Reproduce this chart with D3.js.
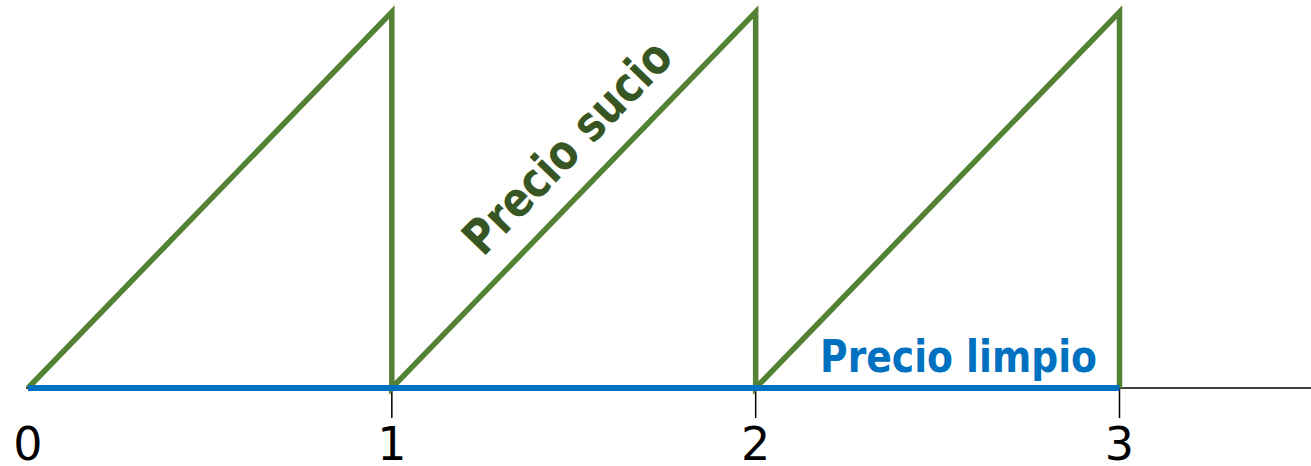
<!DOCTYPE html>
<html><head><meta charset="utf-8">
<script src="https://cdn.jsdelivr.net/npm/d3@7"></script>
<style>html,body{margin:0;padding:0;background:#fff;}svg{display:block;}</style>
</head><body>
<svg id="c" width="1311" height="466"></svg>
<script>
// Data
const dirtyTimes  = [0, 1, 1, 2, 2, 3, 3];
const dirtyValues = [0, 1, 0, 1, 0, 1, 0];
const cleanTimes  = [0, 3];
const cleanValues = [0, 0];
const tickValues  = [0, 1, 2, 3];
const tickLabels  = ["0", "1", "2", "3"];
const dirtyLabel  = "Precio sucio";
const cleanLabel  = "Precio limpio";

const svg = d3.select("#c");
const x = d3.scaleLinear().domain([0, 3]).range([28, 1119.5]);
const y = d3.scaleLinear().domain([0, 1]).range([388, 12]);

// axis baseline
svg.append("line")
  .attr("x1", x(0) - 2).attr("x2", 1311)
  .attr("y1", y(0)).attr("y2", y(0))
  .attr("stroke", "#000").attr("stroke-width", 1.5);

// ticks
svg.selectAll("line.tick").data(tickValues.filter(d => d > 0)).enter()
  .append("line").attr("class", "tick")
  .attr("x1", d => x(d)).attr("x2", d => x(d))
  .attr("y1", y(0)).attr("y2", y(0) + 30)
  .attr("stroke", "#000").attr("stroke-width", 1.5);

svg.selectAll("text.tl").data(tickValues).enter()
  .append("text").attr("class", "tl")
  .attr("x", d => x(d)).attr("y", 460)
  .attr("text-anchor", "middle")
  .attr("font-family", "DejaVu Sans")
  .attr("font-size", 46)
  .attr("fill", "#000")
  .text((d, i) => tickLabels[i]);

// dirty price sawtooth
const line = d3.line().x(d => x(d[0])).y(d => y(d[1]));
svg.append("path")
  .attr("d", line(dirtyTimes.map((t, i) => [t, dirtyValues[i]])))
  .attr("fill", "none").attr("stroke", "#548235")
  .attr("stroke-width", 5.5).attr("stroke-linejoin", "miter");

// clean price
svg.append("path")
  .attr("d", line(cleanTimes.map((t, i) => [t, cleanValues[i]])))
  .attr("fill", "none").attr("stroke", "#0070C0")
  .attr("stroke-width", 6);

// labels
const ang = Math.atan2(y(0) - y(1), x(2) - x(1)) * 180 / Math.PI;
const tpos = 1.564;
const mx = x(tpos), my = y(tpos - 1);
const off = 25, rad = ang * Math.PI / 180;
const lx = mx - off * Math.sin(rad), ly = my - off * Math.cos(rad);
svg.append("text")
  .attr("transform", `translate(${lx},${ly}) rotate(${-ang})`)
  .attr("text-anchor", "middle")
  .attr("font-family", "DejaVu Sans").attr("font-weight", "bold")
  .attr("font-size", 48)
  .attr("textLength", 276).attr("lengthAdjust", "spacingAndGlyphs")
  .attr("fill", "#375623")
  .text(dirtyLabel);

svg.append("text")
  .attr("x", 820).attr("y", 372)
  .attr("font-family", "DejaVu Sans").attr("font-weight", "bold")
  .attr("font-size", 44)
  .attr("textLength", 277).attr("lengthAdjust", "spacingAndGlyphs")
  .attr("fill", "#0070C0")
  .text(cleanLabel);
</script>
</body></html>
